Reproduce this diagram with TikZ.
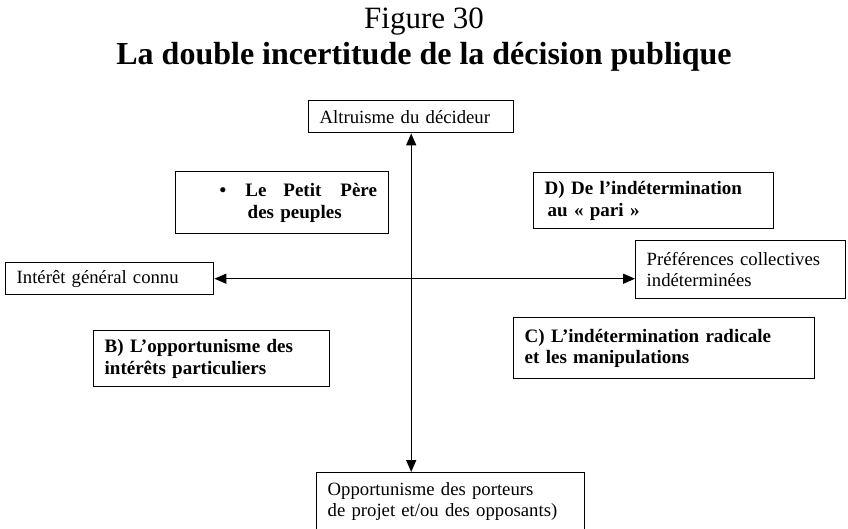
\documentclass[tikz,border=0pt]{standalone}
\usepackage{fontspec}
\setmainfont{Liberation Serif}
\usetikzlibrary{arrows.meta, positioning}

\begin{document}
\begin{tikzpicture}[
                    x=1pt, y=-1pt,
                    >={Triangle[length=12pt, width=10pt]},
                    box/.style={draw, line width=1.4pt, anchor=north west, align=left,
                                inner xsep=11pt, inner ysep=0pt,
                                font=\fontsize{18.7}{20.5}\selectfont},
                    boldbox/.style={box, font=\fontsize{19}{21.5}\selectfont\bfseries},
                    axis/.style={<->, line width=1.4pt},
                ]
                \useasboundingbox (0,0) rectangle (848,528);
                % titles
                \node[anchor=base, font=\fontsize{31}{36}\selectfont] (fig) at (424,28) {Figure 30};
                \node[anchor=base, font=\fontsize{32}{36}\selectfont\bfseries] (title) at (424,64)
                        {La double incertitude de la décision publique};
                % axis ends
                \node[box, text width=183pt, minimum height=32pt] (alt) at (308,100) {Altruisme du décideur};
                \node[box, text width=246pt, minimum height=58pt] (opp) at (316,472)
                        {Opportunisme des porteurs\\de projet et/ou des opposants)\\[-3pt]};
                \node[box, text width=186pt, minimum height=32pt] (gen) at (5,262) {Intérêt général connu};
                \node[box, text width=188pt, minimum height=58pt] (pref) at (635,240)
                        {Préférences collectives\\indéterminées};
                % quadrants
                \node[boldbox, text width=191pt, minimum height=62pt] (pere) at (175,171)
                        {\hspace*{33pt}\textbullet\hspace{19pt}Le\hspace{17pt}Petit\hspace{19pt}Père\\\hspace*{61pt}des peuples};
                \node[boldbox, text width=218pt, minimum height=56pt] (pari) at (533,172)
                        {D) De l’indétermination\\\hspace*{3pt}au «~pari~»};
                \node[boldbox, text width=214pt, minimum height=56pt] (oppb) at (93,330)
                        {B) L’opportunisme des\\intérêts particuliers};
                \node[boldbox, text width=279pt, minimum height=61pt] (indc) at (513,317)
                        {C) L’indétermination radicale\\et les manipulations};
                % axes
                \draw[axis] (alt.south) -- (alt.south |- opp.north);
                \draw[axis] (gen.east) -- (gen.east -| pref.west);
\end{tikzpicture}
\end{document}
